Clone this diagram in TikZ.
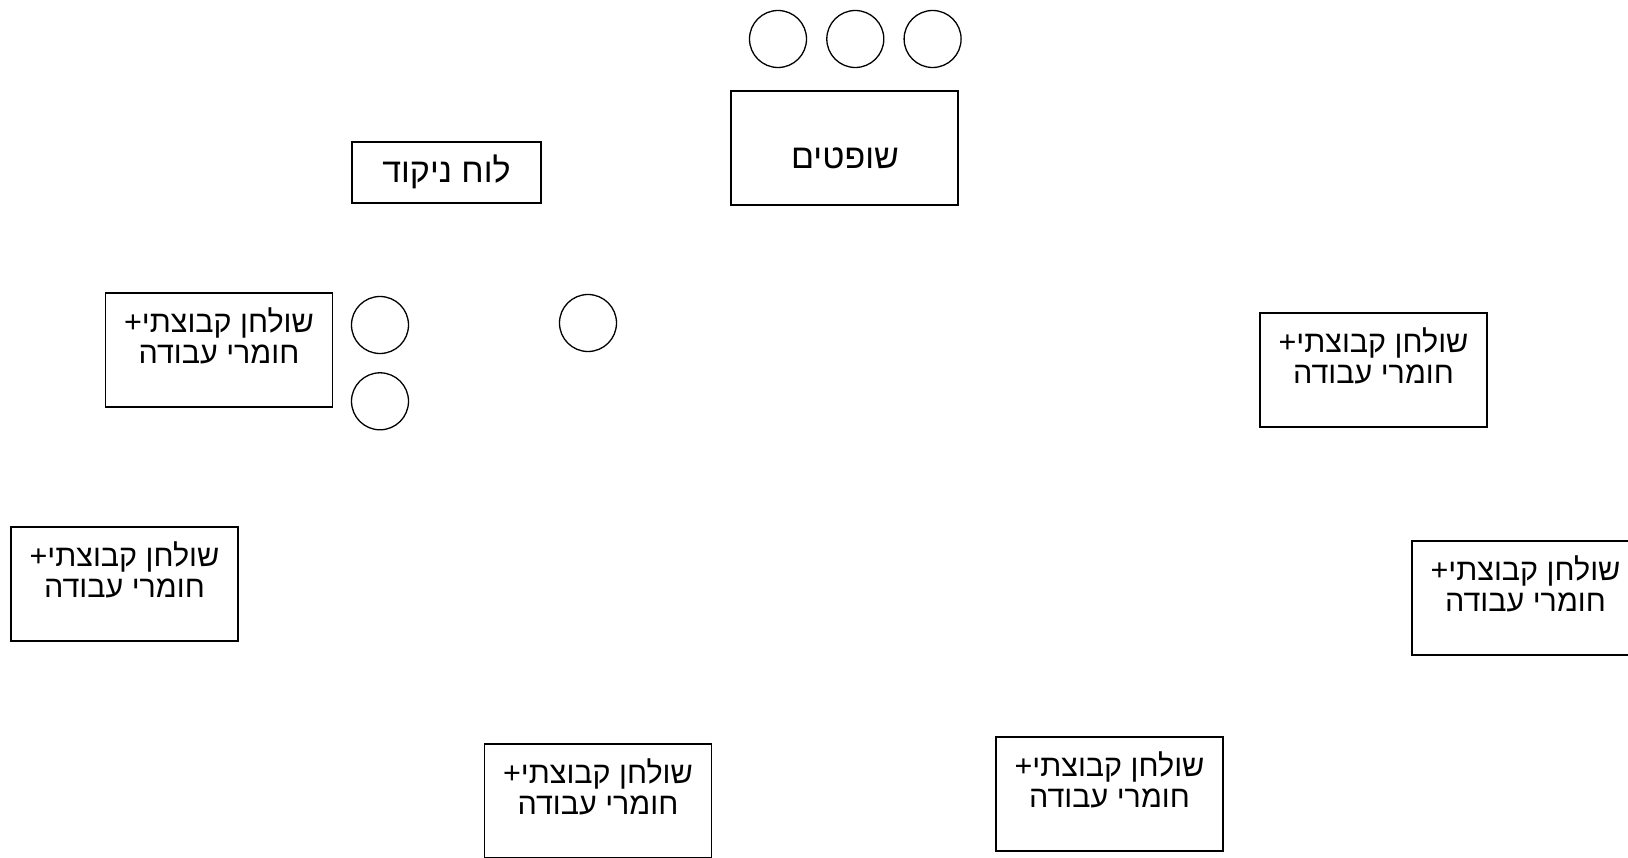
\documentclass[tikz,border=0pt]{standalone}
\usepackage{fontspec}
\newfontfamily\hebfont[Script=Hebrew]{Liberation Sans}
\TeXXeTstate=1
\usetikzlibrary{positioning}
\newcommand{\heb}[1]{\beginR #1\endR}

\begin{document}
\begin{tikzpicture}[x=1pt, y=-1pt, line width=1.3pt,
    seat/.style={draw, circle, minimum size=57pt, inner sep=0pt},
    boardbox/.style={draw, rectangle, inner sep=0pt},
    grouptable/.style={boardbox, minimum width=227pt, minimum height=114pt},
    hebtext/.style={font=\hebfont\fontsize{30.5}{31}\selectfont, align=center, inner sep=0pt},
    bigtext/.style={hebtext, font=\hebfont\fontsize{34}{36}\selectfont}]

    % Page
 \useasboundingbox (0,0) rectangle (1628,858);
 \clip (0,0) rectangle (1628,858);

    % Judges and their seats
 \node[seat] (judge1) at (778,39) {};
 \node[seat, right=19pt of judge1] (judge2) {};
 \node[seat, right=19pt of judge2] (judge3) {};
 \node[grouptable] (judges) at (844.5,148) {};
 \node[bigtext] (judges-text) at (845,158) {\heb{שופטים}};

    % Score board
 \node[boardbox, minimum width=189pt, minimum height=61pt] (board) at (446.5,172.5) {};
 \node[bigtext] (board-text) at (446.5,172) {\heb{לוח ניקוד}};

    % Seats near the first table
 \node[seat] (seat1) at (380,325) {};
 \node[seat, below=18pt of seat1] (seat2) {};
 \node[seat] (seat3) at (588,323) {};

    % Group tables
 \foreach \tname/\tx/\ty in {t1/219/350, t2/124.5/584, t3/598/801,
                             t4/1109.5/794, t5/1373.5/370, t6/1525.5/598}
 {
    \node[grouptable] (\tname) at (\tx,\ty) {};
    \node[hebtext, below=15pt of \tname.north] (\tname-text)
        {\heb{שולחן קבוצתי+}\\\heb{חומרי עבודה}};
 }
\end{tikzpicture}
\end{document}
